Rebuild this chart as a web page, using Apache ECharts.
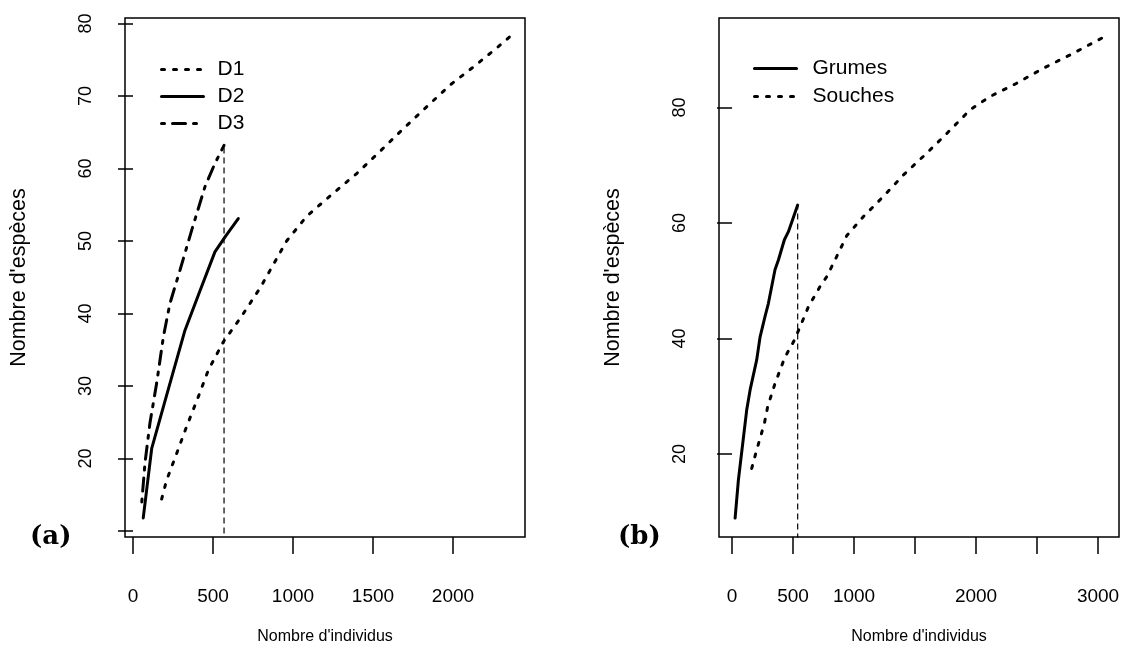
<!DOCTYPE html>
<html>
<head>
<meta charset="utf-8">
<script src="https://cdn.jsdelivr.net/npm/echarts@6/dist/echarts.min.js"></script>
<style>
html,body{margin:0;padding:0;background:#fff;}
#chart{width:1124px;height:668px;}
</style>
</head>
<body>
<div id="chart"></div>
<script>
// ---------- data ----------
// Panel (a)
const d1 = [[179,14.4],[210,17.0],[273,20.7],[335,24.4],[408,28.5],[471,32.2],[565,36.1],[669,39.3],[794,43.5],[835,45.1],[960,50.0],[1085,53.4],[1252,56.6],[1398,59.3],[1564,62.8],[1690,65.5],[1835,68.5],[1981,71.5],[2127,74.0],[2283,76.8],[2356,78.2]];
const d2 = [[64,11.8],[117,21.4],[220,29.5],[325,37.7],[420,43.2],[512,48.5],[580,50.7],[658,53.1]];
const d3 = [[55,14.0],[75,19.4],[106,24.9],[148,30.4],[190,36.8],[231,41.4],[294,46.0],[367,51.5],[450,57.5],[512,60.7],[569,63.2]];
const vlineA = [[569,0],[569,63.2]];
// Panel (b)
const grumes = [[25,8.9],[52,15.5],[120,27.6],[148,31.1],[202,36.3],[230,40.3],[270,43.8],[298,46.1],[352,51.9],[380,53.6],[429,57.1],[462,58.5],[538,63.1]];
const souches = [[161,17.5],[202,20.7],[265,25.3],[292,28.2],[352,32.2],[434,36.8],[503,39.4],[557,42.0],[626,45.5],[721,49.0],[776,50.7],[844,53.6],[940,57.8],[1076,61.1],[1240,64.6],[1404,68.3],[1596,72.1],[1760,75.5],[1951,79.6],[2115,81.9],[2333,84.2],[2552,86.8],[2770,89.1],[3030,92.0]];
const vlineB = [[538,0],[538,63.1]];
// Ticks and labels
const xTicksA = [0,500,1000,1500,2000];
const xLabelsA = [0,500,1000,1500,2000];
const yTicksA = [10,20,30,40,50,60,70,80];
const yLabelsA = [20,30,40,50,60,70,80];
const xTicksB = [0,500,1000,1500,2000,2500,3000];
const xLabelsB = [0,500,1000,2000,3000];
const yTicksB = [20,40,60,80];
const yLabelsB = [20,40,60,80];
const legendA = ['D1','D2','D3'];
const legendB = ['Grumes','Souches'];
const xTitle = "Nombre d'individus";
const yTitle = "Nombre d'espèces";

// ---------- styling ----------
const FONT = "'Liberation Sans', Arial, sans-serif";
const BLACK = '#000';
const dotted = [3, 9];
const dotdash = [3, 8, 13, 8];
const vdash = [6, 4];
const plain = function (v) { return String(v); };

function xAxisDef(gi, min, max, ticks, labels) {
  return {
    gridIndex: gi, type: 'value', min: min, max: max,
    axisLine: {show: false}, splitLine: {show: false},
    axisTick: {show: true, customValues: ticks, length: 17, lineStyle: {color: BLACK, width: 1.5}},
    axisLabel: {customValues: labels, formatter: plain, margin: 50, fontSize: 19, color: BLACK, fontFamily: FONT},
    name: xTitle, nameLocation: 'middle', nameGap: 92,
    nameTextStyle: {fontSize: 16, color: BLACK, fontFamily: FONT}
  };
}
function yAxisDef(gi, min, max, ticks, labels) {
  return {
    gridIndex: gi, type: 'value', min: min, max: max,
    axisLine: {show: false}, splitLine: {show: false},
    axisTick: {show: true, customValues: ticks, length: 15, lineStyle: {color: BLACK, width: 1.5}},
    axisLabel: {customValues: labels, formatter: plain, margin: 30, rotate: 90, fontSize: 18, color: BLACK, fontFamily: FONT},
    name: yTitle, nameLocation: 'middle', nameGap: 95, nameRotate: 90,
    nameTextStyle: {fontSize: 21.5, color: BLACK, fontFamily: FONT}
  };
}
function lineSeries(name, xi, data, dash, width) {
  return {
    name: name, type: 'line', xAxisIndex: xi, yAxisIndex: xi, data: data,
    symbol: 'none', showSymbol: false, smooth: false, animation: false,
    lineStyle: {color: BLACK, width: width, type: dash, cap: 'round', join: 'round'},
    itemStyle: {color: BLACK}
  };
}

const chart = echarts.init(document.getElementById('chart'), null, {renderer: 'canvas'});
chart.setOption({
  backgroundColor: '#fff',
  animation: false,
  grid: [
    {left: 125, top: 18, width: 400, height: 519, show: true, borderColor: BLACK, borderWidth: 1.5, backgroundColor: 'transparent'},
    {left: 719, top: 18, width: 400, height: 519, show: true, borderColor: BLACK, borderWidth: 1.5, backgroundColor: 'transparent'}
  ],
  xAxis: [xAxisDef(0, -50, 2450, xTicksA, xLabelsA), xAxisDef(1, -107, 3172, xTicksB, xLabelsB)],
  yAxis: [yAxisDef(0, 9.17, 80.76, yTicksA, yLabelsA), yAxisDef(1, 5.63, 95.5, yTicksB, yLabelsB)],
  legend: [
    {data: legendA, orient: 'vertical', left: 155, top: 54, itemWidth: 42, itemHeight: 14, itemGap: 6,
     selectedMode: false,
     itemStyle: {opacity: 0},
     lineStyle: {width: 3},
     textStyle: {fontSize: 21, color: BLACK, fontFamily: FONT, padding: [0,0,0,9]}},
    {data: legendB, orient: 'vertical', left: 748, top: 53, itemWidth: 42, itemHeight: 14, itemGap: 7,
     selectedMode: false,
     itemStyle: {opacity: 0},
     lineStyle: {width: 3},
     textStyle: {fontSize: 21, color: BLACK, fontFamily: FONT, padding: [0,0,0,11]}}
  ],
  graphic: [
    {type: 'text', left: 30, top: 524, style: {text: '(a)', font: "bold 26px 'DejaVu Serif', serif", fill: BLACK}},
    {type: 'text', left: 618, top: 524, style: {text: '(b)', font: "bold 26px 'DejaVu Serif', serif", fill: BLACK}}
  ],
  series: [
    lineSeries('D1', 0, d1, dotted, 3),
    lineSeries('D2', 0, d2, 'solid', 3),
    lineSeries('D3', 0, d3, dotdash, 3),
    Object.assign(lineSeries('vA', 0, vlineA, vdash, 1.2), {lineStyle: {color: BLACK, width: 1.2, type: vdash, cap: 'butt'}}),
    lineSeries('Grumes', 1, grumes, 'solid', 3),
    lineSeries('Souches', 1, souches, dotted, 3),
    Object.assign(lineSeries('vB', 1, vlineB, vdash, 1.2), {lineStyle: {color: BLACK, width: 1.2, type: vdash, cap: 'butt'}})
  ]
});
</script>
</body>
</html>
